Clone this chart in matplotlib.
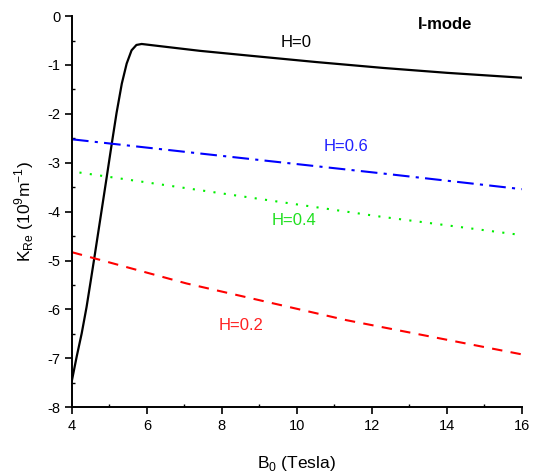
import matplotlib.pyplot as plt
import numpy as np

plt.rcParams['font.family'] = ['Liberation Sans', 'DejaVu Sans']
plt.rcParams['axes.unicode_minus'] = False

# H=0 curve (black, solid)
b_h0 = [4.0, 4.125, 4.26, 4.39, 4.5, 4.6, 4.7, 4.8, 4.92, 5.06, 5.19, 5.33, 5.46,
        5.59, 5.72, 5.86, 6.3, 7.41, 8.75, 10.52, 12.3, 14.0, 16.0]
k_h0 = [-7.45, -6.97, -6.49, -5.95, -5.42, -4.93, -4.43, -3.93, -3.33, -2.62, -1.98,
        -1.38, -0.97, -0.70, -0.59, -0.57, -0.61, -0.71, -0.81, -0.94, -1.06, -1.16, -1.26]

# H=0.6 (blue, dash-dot)
b_h06 = [4.0, 7.41, 12.3, 16.0]
k_h06 = [-2.52, -2.81, -3.22, -3.54]

# H=0.4 (green, dotted)
b_h04 = [4.2, 12.21, 16.0]
k_h04 = [-3.2, -4.1, -4.48]

# H=0.2 (red, dashed)
b_h02 = [4.0, 7.06, 11.32, 16.0]
k_h02 = [-4.83, -5.47, -6.22, -6.92]


def main():
    fig = plt.figure(figsize=(5.33, 4.74), dpi=100)
    ax = fig.add_axes([0.135, 0.141, 0.844, 0.825])

    ax.plot(b_h0, k_h0, color="black", lw=1.6)
    ax.plot(b_h06, k_h06, color="#0000ff", lw=1.5, linestyle=(0, (8, 3, 1.5, 3)))
    ax.plot(b_h04, k_h04, color="#00ee00", lw=1.5, linestyle=(0, (1, 4)))
    ax.plot(b_h02, k_h02, color="#ff0000", lw=1.5, linestyle=(0, (5, 4)))

    ax.text(9.97, -0.53, "H=0", fontsize=12, color="black", ha="center", va="center")
    ax.text(13.95, -0.18, "I-mode", fontsize=12, fontweight="bold", ha="center", va="center")
    ax.text(11.3, -2.66, "H=0.6", fontsize=12, color="#2020ff", ha="center", va="center")
    ax.text(9.92, -4.19, "H=0.4", fontsize=12, color="#20e020", ha="center", va="center")
    ax.text(8.5, -6.32, "H=0.2", fontsize=12, color="#ff2020", ha="center", va="center")

    ax.set_xlim(4, 16)
    ax.set_ylim(-8, 0)
    ax.set_xticks(np.arange(4, 17, 2))
    ax.set_yticks(np.arange(-8, 1, 1))
    ax.set_xticks(np.arange(5, 16, 2), minor=True)
    ax.set_yticks(np.arange(-7.5, 0, 1), minor=True)
    ax.tick_params(which="major", direction="out", length=5, width=1.2, labelsize=10.5)
    ax.tick_params(which="minor", direction="in", length=2, width=1)

    ax.spines["top"].set_visible(False)
    ax.spines["right"].set_visible(False)
    ax.spines["left"].set_linewidth(1.4)
    ax.spines["bottom"].set_linewidth(1.4)

    ax.set_xlabel(r"B$_{\mathregular{0}}$ (Tesla)", fontsize=12.5, labelpad=15)
    ax.set_ylabel(r"K$_{\mathregular{Re}}$ (10$^{\mathregular{9}}$m$^{\mathregular{-1}}$)",
                  fontsize=12.5, labelpad=8)

    fig.savefig("out.png", dpi=100)


if __name__ == "__main__":
    main()
